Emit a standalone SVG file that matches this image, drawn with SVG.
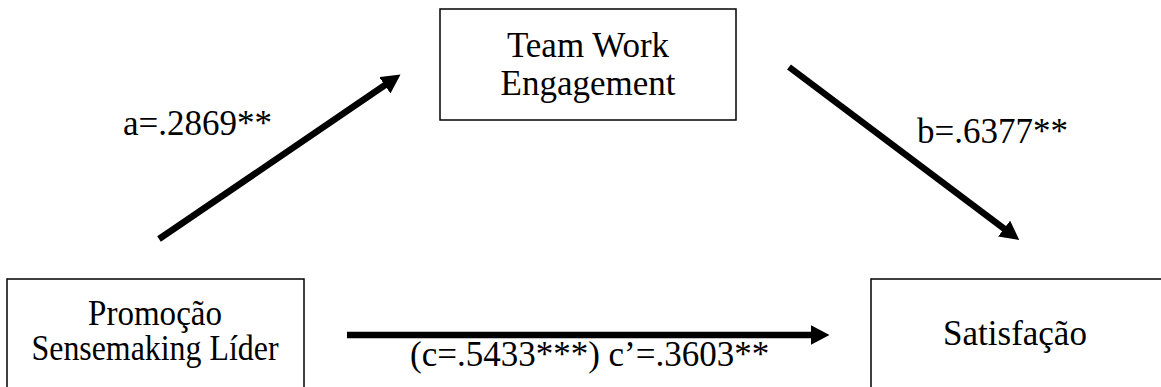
<svg xmlns="http://www.w3.org/2000/svg" width="1161" height="387" viewBox="0 0 1161 387">
  <style>
    .box { fill: #fff; stroke: #000; stroke-width: 1.5; }
    .edge { stroke: #000; stroke-width: 6.5; fill: none; marker-end: url(#ah); }
    text { font-family: 'Liberation Serif', 'Times New Roman', serif; font-size: 35px; fill: #000; }
    .c { text-anchor: middle; }
  </style>
  <defs>
    <marker id="ah" markerUnits="userSpaceOnUse" markerWidth="20" markerHeight="20" refX="7" refY="10" orient="auto">
      <path d="M0,0 L19,10 L0,20 z" fill="#000"/>
    </marker>
  </defs>
  <rect width="1161" height="387" fill="#fff"/>
  <g id="node-teamwork">
    <rect class="box" x="440" y="9" width="296" height="111"/>
    <text class="c" x="588" y="57">Team Work</text>
    <text class="c" x="588" y="95">Engagement</text>
  </g>
  <g id="node-promocao">
    <rect class="box" x="7" y="279" width="297" height="120"/>
    <text class="c" x="155" y="325" textLength="134" lengthAdjust="spacingAndGlyphs">Promoção</text>
    <text class="c" x="155" y="360" textLength="247" lengthAdjust="spacingAndGlyphs">Sensemaking Líder</text>
  </g>
  <g id="node-satisfacao">
    <rect class="box" x="871" y="279" width="300" height="120"/>
    <text class="c" x="1015" y="345">Satisfação</text>
  </g>
  <g id="connectors">
    <line class="edge" x1="159" y1="239" x2="390.6" y2="81.3"/>
    <line class="edge" x1="789" y1="67" x2="1009.7" y2="232.8"/>
    <line class="edge" x1="347" y1="335" x2="817.5" y2="335"/>
    <text x="123" y="135">a=.2869**</text>
    <text x="917" y="143">b=.6377**</text>
    <text x="410" y="366">(c=.5433***) c’=.3603**</text>
  </g>
</svg>
